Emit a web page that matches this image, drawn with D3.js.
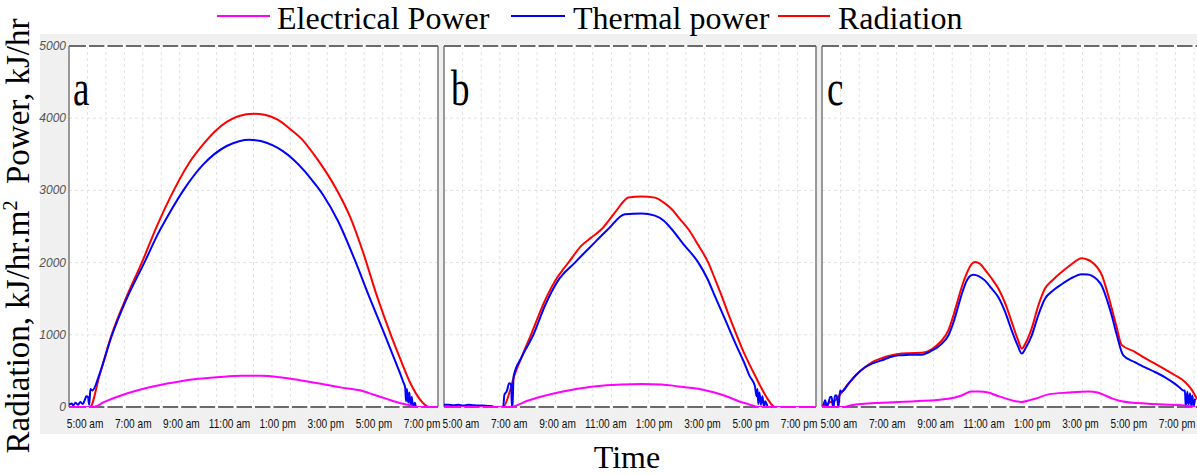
<!DOCTYPE html>
<html><head><meta charset="utf-8">
<script src="https://cdn.jsdelivr.net/npm/d3@7"></script>
<style>body{margin:0;background:#fff}svg{display:block}</style>
</head><body>
<svg id="chart" width="1197" height="475"></svg>
<script>
// ---------- DATA ----------
const seriesNames = ["Electrical Power", "Thermal power", "Radiation"];
const yTickValues = [0, 1000, 2000, 3000, 4000, 5000];
const xTickHours = [5, 7, 9, 11, 13, 15, 17, 19];
const xTickLabels = ["5:00 am", "7:00 am", "9:00 am", "11:00 am", "1:00 pm", "3:00 pm", "5:00 pm", "7:00 pm"];
const panelLetters = ["a", "b", "c"];

// Panel a
const aRadHours = [4.33,5.2,5.6,6.1,6.7,7.35,8.0,8.53,9.3,9.91,10.4,10.88,11.4,12.0,12.5,13.0,13.5,14.0,14.48,15.0,15.45,16.0,16.55,17.1,17.7,18.1,18.5,18.9,19.3,19.66];
const aRad      = [0,0,440,1000,1510,1995,2520,2900,3370,3640,3820,3950,4030,4060,4045,3980,3855,3710,3510,3260,3010,2640,2140,1560,1000,660,340,110,0,0];
const aThermHours = [4.33,4.45,4.5,4.6,4.7,4.8,4.9,5.0,5.05,5.12,5.17,5.22,5.3,5.6,6.1,6.7,7.49,8.0,8.53,9.08,9.91,10.88,11.4,11.83,12.3,12.8,13.2,13.65,14.1,14.48,14.9,15.5,16.2,16.8,17.45,17.9,18.2,18.3,18.33,18.37,18.42,18.47,18.52,18.57,18.62,18.7,18.75,19.66];
const aTherm      = [30,50,20,60,30,70,40,110,150,140,30,250,230,460,980,1480,2020,2380,2700,3000,3360,3615,3682,3700,3683,3623,3547,3428,3274,3119,2930,2580,2040,1530,1000,620,360,260,80,250,60,200,30,140,0,60,0,0];
const aElecHours = [4.33,5.34,5.8,6.73,7.5,8.8,9.7,10.6,11.5,12.3,13.1,13.93,14.8,15.6,16.42,17.0,17.53,18.0,18.5,18.7,19.66];
const aElec      = [0,0,70,186,260,347,390,416,432,432,412,372,322,272,231,170,112,62,20,0,0];

// Panel b
const bRadHours = [4.3,6.75,7.0,7.17,7.5,7.9,8.5,9.0,9.24,9.45,9.99,10.41,10.83,11.38,11.8,11.93,12.48,13.03,13.4,13.72,14.05,14.41,14.83,15.24,15.51,15.79,16.07,16.41,16.69,16.9,17.17,17.38,17.7,18.0,19.7];
const bRad      = [0,0,190,390,680,1000,1490,1800,1910,2000,2235,2350,2465,2696,2870,2903,2917,2900,2830,2742,2610,2465,2240,2000,1780,1544,1290,1000,770,622,440,300,110,0,0];
const bThermHours = [4.3,4.5,4.7,4.9,5.1,5.3,5.5,5.7,5.9,6.1,6.3,6.36,6.75,6.8,6.9,7.0,7.08,7.11,7.14,7.18,7.5,7.97,8.5,9.0,9.72,10.41,11.1,11.79,12.48,13.03,13.4,13.72,14.2,14.83,15.2,15.51,15.85,16.21,16.5,16.72,16.95,17.17,17.24,17.28,17.31,17.36,17.42,17.48,17.55,17.6,17.72,19.7];
const bTherm      = [30,30,25,30,20,30,25,20,20,15,10,0,0,170,220,330,310,0,50,420,680,980,1420,1740,2000,2235,2465,2670,2680,2650,2580,2465,2260,2000,1780,1540,1280,1000,780,620,430,290,150,250,40,200,30,150,0,80,0,0];
const bElecHours = [4.3,7.03,7.79,9.17,10.41,11.65,12.5,13.31,14.0,14.83,15.5,16.07,16.5,16.9,17.31,19.7];
const bElec      = [0,0,90,210,280,313,318,313,285,253,200,138,80,40,0,0];

// Panel c
const cRadHours = [4.3,4.45,4.6,4.84,5.11,5.39,5.7,6.08,6.4,6.77,7.1,7.46,7.9,8.43,8.84,9.2,9.53,9.75,9.94,10.12,10.29,10.45,10.63,10.85,11.05,11.3,11.6,11.9,12.15,12.4,12.57,12.75,12.98,13.25,13.53,13.85,14.22,14.6,15.05,15.3,15.46,15.7,15.88,16.1,16.29,16.5,16.7,17.25,17.6,18.08,18.5,18.91,19.2,19.46,19.6,19.74,19.95];
const cRad      = [20,30,60,92,200,320,440,550,625,675,710,735,745,750,800,900,1060,1280,1500,1700,1850,1960,2010,1980,1900,1790,1640,1420,1180,940,810,900,1090,1400,1640,1760,1870,1970,2060,2040,2010,1930,1830,1600,1370,1100,860,765,690,600,520,440,380,300,240,160,60];
const cThermHours = [4.36,4.43,4.5,4.57,4.64,4.7,4.75,4.78,4.84,4.91,4.98,5.05,5.11,5.39,5.7,6.08,6.4,6.77,7.1,7.46,7.9,8.43,8.84,9.2,9.53,9.75,9.94,10.12,10.29,10.56,10.8,11.05,11.3,11.6,11.9,12.15,12.4,12.57,12.75,12.98,13.25,13.53,13.85,14.22,14.6,15.05,15.3,15.46,15.7,15.88,16.1,16.29,16.5,16.77,17.25,17.6,18.08,18.5,18.91,19.1,19.25,19.32,19.36,19.42,19.47,19.53,19.58,19.63,19.68,19.74];
const cTherm      = [23,92,0,60,138,140,0,10,161,161,0,230,210,320,440,550,605,645,690,715,722,725,780,860,990,1180,1400,1600,1750,1830,1810,1750,1650,1520,1300,1060,850,740,830,990,1270,1500,1610,1700,1780,1840,1835,1820,1760,1680,1480,1270,1000,715,620,560,485,410,320,270,230,230,0,210,30,190,20,160,0,115];
const cElecHours = [4.3,5.2,5.53,6.77,8.15,9.53,10.08,10.49,10.8,11.18,11.6,11.88,12.3,12.57,12.9,13.12,13.67,14.5,15.33,15.7,16.02,16.3,16.7,17.8,19.18,19.74];
const cElec      = [0,0,25,60,80,115,160,215,215,200,150,120,80,70,95,115,175,200,215,200,160,120,80,45,25,0];

// ---------- LAYOUT ----------
const colors = {elec: "#ff00ff", therm: "#0000ff", rad: "#ff0000"};
const plotTop = 46, plotBottom = 407;
const panels = [
  {left: 69,  right: 438,  dom: [4.33, 19.66], gstep: (19.66-4.33)/20, letter: panelLetters[0], lx: 73,  ly: 105,
   rad: [aRadHours, aRad], therm: [aThermHours, aTherm], elec: [aElecHours, aElec], yLabels: true},
  {left: 444, right: 816,  dom: [4.3, 19.7], gstep: (19.7-4.3)/20, letter: panelLetters[1], lx: 451, ly: 105,
   rad: [bRadHours, bRad], therm: [bThermHours, bTherm], elec: [bElecHours, bElec], yLabels: false},
  {left: 822, right: 1200, dom: [4.3, 4.3 + 378/24.16], gstep: 0.77, letter: panelLetters[2], lx: 827, ly: 105,
   rad: [cRadHours, cRad], therm: [cThermHours, cTherm], elec: [cElecHours, cElec], yLabels: false}
];

const svg = d3.select("#chart");
svg.append("rect").attr("x", 40).attr("y", 34).attr("width", 1157).attr("height", 400).attr("fill", "#f0f0f0");

const y = d3.scaleLinear().domain([0, 5000]).range([plotBottom, plotTop]);

panels.forEach((p, i) => {
  const x = d3.scaleLinear().domain(p.dom).range([p.left, p.right]);
  const g = svg.append("g");
  g.append("rect").attr("x", p.left).attr("y", plotTop).attr("width", p.right - p.left).attr("height", plotBottom - plotTop).attr("fill", "#fff");
  g.append("clipPath").attr("id", "clip" + i).append("rect")
    .attr("x", p.left).attr("y", plotTop - 2).attr("width", p.right - p.left).attr("height", plotBottom - plotTop + 2);

  // grid
  const gridX = d3.range(p.dom[0] + p.gstep, p.dom[1] - 0.01, p.gstep);
  g.selectAll(".vg").data(gridX).join("line")
    .attr("x1", d => x(d)).attr("x2", d => x(d)).attr("y1", plotTop).attr("y2", plotBottom)
    .attr("stroke", "#e2e2e2").attr("stroke-width", 1).attr("stroke-dasharray", "3,3");
  g.selectAll(".hg").data(yTickValues.filter(v => v > 0 && v < 5000)).join("line")
    .attr("x1", p.left).attr("x2", p.right).attr("y1", d => y(d)).attr("y2", d => y(d))
    .attr("stroke", "#e2e2e2").attr("stroke-width", 1).attr("stroke-dasharray", "3,3");

  // borders
  g.append("line").attr("x1", p.left).attr("x2", p.left).attr("y1", plotTop).attr("y2", plotBottom).attr("stroke", "#7a7a7a").attr("stroke-width", 1.5);
  g.append("line").attr("x1", p.right).attr("x2", p.right).attr("y1", plotTop).attr("y2", plotBottom).attr("stroke", "#7a7a7a").attr("stroke-width", 1.5);
  [plotTop, plotBottom].forEach(yy => {
    g.append("line").attr("x1", p.left).attr("x2", p.right).attr("y1", yy).attr("y2", yy).attr("stroke", "#6a6a6a").attr("stroke-width", 2);
    g.selectAll(null).data(gridX).join("line")
      .attr("x1", d => x(d) - 1.5).attr("x2", d => x(d) + 1.5).attr("y1", yy).attr("y2", yy)
      .attr("stroke", "#ffffff").attr("stroke-width", 2.5);
  });

  // series lines
  const line = d3.line().x(d => x(d[0])).y(d => y(d[1])).curve(d3.curveMonotoneX);
  const lg = g.append("g").attr("clip-path", `url(#clip${i})`);
  [["rad", colors.rad], ["therm", colors.therm], ["elec", colors.elec]].forEach(([k, c]) => {
    const [hs, vs] = p[k];
    lg.append("path").datum(hs.map((h, j) => [h, vs[j]]))
      .attr("d", line).attr("fill", "none").attr("stroke", c).attr("stroke-width", 2);
  });

  // x tick labels
  g.selectAll(".xt").data(xTickHours).join("text")
    .attr("transform", d => `translate(${x(d)},428) scale(0.78,1)`).attr("text-anchor", "middle")
    .attr("font-family", "'Liberation Sans',Arial,sans-serif")
    .attr("font-size", 13).attr("fill", "#111")
    .text((d, j) => xTickLabels[j]);

  // y tick labels
  if (p.yLabels) {
    g.selectAll(".yt").data(yTickValues).join("text")
      .attr("x", p.left - 3).attr("y", d => y(d) + 4).attr("text-anchor", "end")
      .attr("font-family", "'Liberation Sans',Arial,sans-serif").attr("font-style", "italic")
      .attr("font-size", 12).attr("fill", "#555")
      .text(d => d);
  }

  // panel letter
  g.append("text").attr("transform", `translate(${p.lx},${p.ly}) scale(1,1.35)`)
    .attr("font-family", "'Liberation Serif','Times New Roman',serif").attr("font-size", 37)
    .attr("fill", "#000").text(p.letter);
});

// legend
const legend = [
  {x1: 217, x2: 270, tx: 277, c: colors.elec, t: seriesNames[0]},
  {x1: 511, x2: 565, tx: 573, c: colors.therm, t: seriesNames[1]},
  {x1: 778, x2: 830, tx: 838, c: colors.rad, t: seriesNames[2]}
];
legend.forEach(l => {
  svg.append("line").attr("x1", l.x1).attr("x2", l.x2).attr("y1", 16).attr("y2", 16).attr("stroke", l.c).attr("stroke-width", 2);
  svg.append("text").attr("x", l.tx).attr("y", 28.5).attr("font-family", "'Liberation Serif','Times New Roman',serif")
    .attr("font-size", 32).attr("fill", "#000").text(l.t);
});

// axis titles
const yt = svg.append("text").attr("transform", "translate(29,236) rotate(-90)")
  .attr("text-anchor", "middle").attr("font-family", "'Liberation Serif','Times New Roman',serif")
  .attr("font-size", 33).attr("fill", "#000");
yt.append("tspan").text("Radiation, kJ/hr.m");
yt.append("tspan").attr("font-size", 20).attr("dy", -12).text("2");
yt.append("tspan").attr("dy", 12).text("\u00a0\u00a0Power, kJ/hr");

svg.append("text").attr("x", 627).attr("y", 468).attr("text-anchor", "middle")
  .attr("font-family", "'Liberation Serif','Times New Roman',serif").attr("font-size", 32).attr("fill", "#000").text("Time");
</script>
</body></html>
